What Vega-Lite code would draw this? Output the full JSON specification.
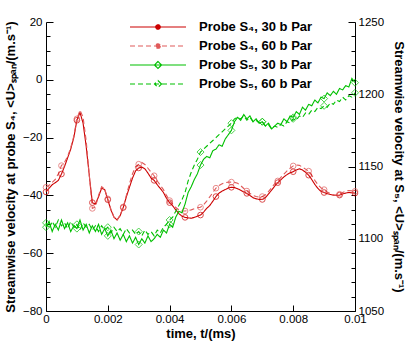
{
"$schema":"https://vega.github.io/schema/vega-lite/v6.json",
"width":309,"height":289,
"autosize":{"type":"none"},
"padding":{"left":46,"top":22,"right":60,"bottom":36},
"config":{"view":{"stroke":null},"font":"Liberation Sans",
 "axis":{"labelFont":"Liberation Sans","labelFontSize":11.5,"labelColor":"#000","titleFont":"Liberation Sans","titleFontSize":13,"titleFontWeight":"bold","titleColor":"#000","domainColor":"#000","tickColor":"#000","grid":false,"labelFlush":false,"labelOverlap":false}},
"data":{"values":[
{"t":0,"s4_30":-38.8,"s4_60":-37.2,"s5_30":1108,"s5_60":1111},
{"t":0.0001,"s4_30":-37.5,"s4_60":-36.5,"s5_30":1112,"s5_60":1107},
{"t":0.0002,"s4_30":-36.3,"s4_60":-35.5,"s5_30":1105,"s5_60":1112},
{"t":0.0003,"s4_30":-35.6,"s4_60":-34.5,"s5_30":1110,"s5_60":1108},
{"t":0.0004,"s4_30":-34.8,"s4_60":-32.5,"s5_30":1106,"s5_60":1113},
{"t":0.0005,"s4_30":-32.6,"s4_60":-29.7,"s5_30":1113,"s5_60":1109},
{"t":0.0006,"s4_30":-30,"s4_60":-28.5,"s5_30":1107,"s5_60":1111},
{"t":0.0007,"s4_30":-27,"s4_60":-26.5,"s5_30":1111,"s5_60":1107},
{"t":0.0008,"s4_30":-24,"s4_60":-23.5,"s5_30":1105,"s5_60":1112},
{"t":0.0009,"s4_30":-20,"s4_60":-19.5,"s5_30":1109,"s5_60":1108},
{"t":0.001,"s4_30":-14,"s4_60":-13.5,"s5_30":1107,"s5_60":1110},
{"t":0.0011,"s4_30":-11.3,"s4_60":-10.5,"s5_30":1113,"s5_60":1106},
{"t":0.0012,"s4_30":-15,"s4_60":-13,"s5_30":1106,"s5_60":1111},
{"t":0.0013,"s4_30":-23,"s4_60":-21,"s5_30":1110,"s5_60":1108},
{"t":0.0014,"s4_30":-33,"s4_60":-33,"s5_30":1104,"s5_60":1110},
{"t":0.0015,"s4_30":-42.5,"s4_60":-44.5,"s5_30":1109,"s5_60":1106},
{"t":0.0016,"s4_30":-43,"s4_60":-44,"s5_30":1105,"s5_60":1109},
{"t":0.0017,"s4_30":-40.5,"s4_60":-40,"s5_30":1110,"s5_60":1105},
{"t":0.0018,"s4_30":-37.5,"s4_60":-37,"s5_30":1103,"s5_60":1109},
{"t":0.0019,"s4_30":-38,"s4_60":-37.8,"s5_30":1107,"s5_60":1106},
{"t":0.002,"s4_30":-41.5,"s4_60":-41.2,"s5_30":1102,"s5_60":1108},
{"t":0.0021,"s4_30":-45,"s4_60":-44.8,"s5_30":1106,"s5_60":1104},
{"t":0.0022,"s4_30":-47.5,"s4_60":-47.5,"s5_30":1100,"s5_60":1108},
{"t":0.0023,"s4_30":-48.5,"s4_60":-48.5,"s5_30":1104,"s5_60":1105},
{"t":0.0024,"s4_30":-47,"s4_60":-46.8,"s5_30":1099,"s5_60":1107},
{"t":0.0025,"s4_30":-44.2,"s4_60":-44,"s5_30":1103,"s5_60":1103},
{"t":0.0026,"s4_30":-40.5,"s4_60":-40,"s5_30":1098,"s5_60":1107},
{"t":0.0027,"s4_30":-37.2,"s4_60":-36,"s5_30":1102,"s5_60":1104},
{"t":0.0028,"s4_30":-34,"s4_60":-32.5,"s5_30":1097,"s5_60":1106},
{"t":0.0029,"s4_30":-31.5,"s4_60":-30,"s5_30":1101,"s5_60":1103},
{"t":0.003,"s4_30":-30.5,"s4_60":-29.2,"s5_30":1096,"s5_60":1105},
{"t":0.0031,"s4_30":-30.2,"s4_60":-28.6,"s5_30":1100,"s5_60":1102},
{"t":0.0032,"s4_30":-30.8,"s4_60":-29.3,"s5_30":1097,"s5_60":1106},
{"t":0.0033,"s4_30":-32.3,"s4_60":-30.6,"s5_30":1102,"s5_60":1103},
{"t":0.0034,"s4_30":-34,"s4_60":-32,"s5_30":1098,"s5_60":1105},
{"t":0.0035,"s4_30":-34.8,"s4_60":-33.2,"s5_30":1100,"s5_60":1102},
{"t":0.0036,"s4_30":-36.3,"s4_60":-35,"s5_30":1103,"s5_60":1106},
{"t":0.0037,"s4_30":-37.6,"s4_60":-36.5,"s5_30":1101,"s5_60":1104},
{"t":0.0038,"s4_30":-39,"s4_60":-38,"s5_30":1106,"s5_60":1108},
{"t":0.0039,"s4_30":-41,"s4_60":-40,"s5_30":1104,"s5_60":1110},
{"t":0.004,"s4_30":-42.5,"s4_60":-41.8,"s5_30":1110,"s5_60":1113},
{"t":0.0041,"s4_30":-43.6,"s4_60":-43,"s5_30":1108,"s5_60":1115},
{"t":0.0042,"s4_30":-45,"s4_60":-44.2,"s5_30":1115,"s5_60":1119},
{"t":0.0043,"s4_30":-46.3,"s4_60":-45,"s5_30":1119,"s5_60":1123},
{"t":0.0044,"s4_30":-47.2,"s4_60":-45.4,"s5_30":1118,"s5_60":1127},
{"t":0.0045,"s4_30":-47.6,"s4_60":-45.4,"s5_30":1124,"s5_60":1132},
{"t":0.0046,"s4_30":-47.8,"s4_60":-45.2,"s5_30":1132,"s5_60":1140},
{"t":0.0047,"s4_30":-47.9,"s4_60":-45,"s5_30":1136,"s5_60":1146},
{"t":0.0048,"s4_30":-47.6,"s4_60":-44.6,"s5_30":1141,"s5_60":1151},
{"t":0.0049,"s4_30":-47.2,"s4_60":-44.3,"s5_30":1145,"s5_60":1155},
{"t":0.005,"s4_30":-46.8,"s4_60":-44.1,"s5_30":1151,"s5_60":1160},
{"t":0.0051,"s4_30":-45.8,"s4_60":-43.2,"s5_30":1155,"s5_60":1162},
{"t":0.0052,"s4_30":-44.5,"s4_60":-42,"s5_30":1157,"s5_60":1164},
{"t":0.0053,"s4_30":-43.5,"s4_60":-40.5,"s5_30":1156,"s5_60":1166},
{"t":0.0054,"s4_30":-42,"s4_60":-39,"s5_30":1161,"s5_60":1168},
{"t":0.0055,"s4_30":-40.4,"s4_60":-37.5,"s5_30":1162,"s5_60":1170},
{"t":0.0056,"s4_30":-39.2,"s4_60":-36.6,"s5_30":1165,"s5_60":1172},
{"t":0.0057,"s4_30":-38.5,"s4_60":-36,"s5_30":1164,"s5_60":1174},
{"t":0.0058,"s4_30":-38,"s4_60":-35.6,"s5_30":1169,"s5_60":1176},
{"t":0.0059,"s4_30":-37.4,"s4_60":-35.4,"s5_30":1172,"s5_60":1178},
{"t":0.006,"s4_30":-37.2,"s4_60":-35.4,"s5_30":1175,"s5_60":1180},
{"t":0.0061,"s4_30":-37.3,"s4_60":-35.5,"s5_30":1181,"s5_60":1183},
{"t":0.0062,"s4_30":-37.7,"s4_60":-35.8,"s5_30":1184,"s5_60":1184},
{"t":0.0063,"s4_30":-38.2,"s4_60":-36.6,"s5_30":1182,"s5_60":1183},
{"t":0.0064,"s4_30":-38.8,"s4_60":-37.6,"s5_30":1186,"s5_60":1185},
{"t":0.0065,"s4_30":-39.3,"s4_60":-38.5,"s5_30":1183,"s5_60":1182},
{"t":0.0066,"s4_30":-40,"s4_60":-39.3,"s5_30":1185,"s5_60":1184},
{"t":0.0067,"s4_30":-40.8,"s4_60":-40,"s5_30":1181,"s5_60":1181},
{"t":0.0068,"s4_30":-41.2,"s4_60":-40.4,"s5_30":1183,"s5_60":1182},
{"t":0.0069,"s4_30":-41.4,"s4_60":-40.6,"s5_30":1180,"s5_60":1180},
{"t":0.007,"s4_30":-41.4,"s4_60":-40.4,"s5_30":1181,"s5_60":1181},
{"t":0.0071,"s4_30":-40.8,"s4_60":-39.8,"s5_30":1178,"s5_60":1178},
{"t":0.0072,"s4_30":-39.5,"s4_60":-38.7,"s5_30":1180,"s5_60":1179},
{"t":0.0073,"s4_30":-38.2,"s4_60":-37.3,"s5_30":1176,"s5_60":1176},
{"t":0.0074,"s4_30":-36.8,"s4_60":-36,"s5_30":1178,"s5_60":1178},
{"t":0.0075,"s4_30":-35.6,"s4_60":-35,"s5_30":1180,"s5_60":1177},
{"t":0.0076,"s4_30":-34.6,"s4_60":-33.8,"s5_30":1179,"s5_60":1179},
{"t":0.0077,"s4_30":-33.6,"s4_60":-32.6,"s5_30":1183,"s5_60":1178},
{"t":0.0078,"s4_30":-32.8,"s4_60":-31.5,"s5_30":1181,"s5_60":1181},
{"t":0.0079,"s4_30":-32.2,"s4_60":-30.6,"s5_30":1185,"s5_60":1180},
{"t":0.008,"s4_30":-31.8,"s4_60":-29.8,"s5_30":1184,"s5_60":1183},
{"t":0.0081,"s4_30":-31.2,"s4_60":-29.5,"s5_30":1188,"s5_60":1182},
{"t":0.0082,"s4_30":-30.8,"s4_60":-29.6,"s5_30":1186,"s5_60":1185},
{"t":0.0083,"s4_30":-31.2,"s4_60":-30.2,"s5_30":1191,"s5_60":1184},
{"t":0.0084,"s4_30":-32,"s4_60":-30.9,"s5_30":1189,"s5_60":1187},
{"t":0.0085,"s4_30":-33,"s4_60":-31.6,"s5_30":1193,"s5_60":1186},
{"t":0.0086,"s4_30":-34.5,"s4_60":-33,"s5_30":1192,"s5_60":1189},
{"t":0.0087,"s4_30":-36.2,"s4_60":-34.8,"s5_30":1196,"s5_60":1188},
{"t":0.0088,"s4_30":-37.6,"s4_60":-36.3,"s5_30":1194,"s5_60":1191},
{"t":0.0089,"s4_30":-38.6,"s4_60":-37.4,"s5_30":1198,"s5_60":1190},
{"t":0.009,"s4_30":-39,"s4_60":-38,"s5_30":1197,"s5_60":1192},
{"t":0.0091,"s4_30":-39.4,"s4_60":-38.8,"s5_30":1201,"s5_60":1191},
{"t":0.0092,"s4_30":-39.7,"s4_60":-39.4,"s5_30":1199,"s5_60":1194},
{"t":0.0093,"s4_30":-39.9,"s4_60":-39.8,"s5_30":1202,"s5_60":1193},
{"t":0.0094,"s4_30":-40,"s4_60":-40,"s5_30":1200,"s5_60":1196},
{"t":0.0095,"s4_30":-39.9,"s4_60":-39.6,"s5_30":1204,"s5_60":1195},
{"t":0.0096,"s4_30":-39.5,"s4_60":-39,"s5_30":1203,"s5_60":1198},
{"t":0.0097,"s4_30":-39.2,"s4_60":-38.5,"s5_30":1206,"s5_60":1196},
{"t":0.0098,"s4_30":-39,"s4_60":-38.3,"s5_30":1205,"s5_60":1199},
{"t":0.0099,"s4_30":-39.1,"s4_60":-38.4,"s5_30":1211,"s5_60":1198},
{"t":0.01,"s4_30":-39.2,"s4_60":-38.6,"s5_30":1208,"s5_60":1201}
]},
"transform":[{"fold":["s4_30","s4_60","s5_30","s5_60"],"as":["series","v"]}],
"encoding":{"x":{"field":"t","type":"quantitative","scale":{"domain":[0,0.01],"nice":false},
 "axis":{"values":[0,0.002,0.004,0.006,0.008,0.01],"format":"~g","tickSize":-6,"labelPadding":8,"title":"time, t/(ms)","titlePadding":3}}},
"layer":[
 {"transform":[{"filter":"indexof(datum.series,'s4')===0"}],
  "encoding":{
   "y":{"field":"v","type":"quantitative","scale":{"domain":[-80,20],"nice":false},
    "axis":{"orient":"left","values":[-80,-75,-70,-65,-60,-55,-50,-45,-40,-35,-30,-25,-20,-15,-10,-5,0,5,10,15,20],
     "labelExpr":"datum.value % 20 === 0 ? datum.label : ''",
     "tickSize":{"condition":{"test":"datum.value % 20 === 0","value":-7},"value":-4},
     "labelPadding":11,"title":"Streamwise velocity at probe S₄,  <U>ₛₚₐₙ/(m.s⁻¹)","titlePadding":5}},
   "color":{"field":"series","type":"nominal",
    "scale":{"domain":["s4_30","s4_60","s5_30","s5_60"],"range":["#cc0000","#e05a5a","#00c000","#00c000"]},
    "legend":{"orient":"none","legendX":104,"legendY":-3,"title":null,"padding":0,"symbolSize":196,"symbolStrokeWidth":1.2,"labelOffset":33,
     "labelFont":"Liberation Sans","labelFontSize":13,"labelFontWeight":"bold","labelColor":"#000","rowPadding":4,
     "labelExpr":"datum.value=='s4_30'?'Probe S₄, 30 b Par':datum.value=='s4_60'?'Probe S₄, 60 b Par':datum.value=='s5_30'?'Probe S₅, 30 b Par':'Probe S₅, 60 b Par'",
     "encode":{"symbols":{"update":{
      "shape":{"signal":"indexof(datum.value,'s5')===0 ? 'M-4,0H4M0.5,0L0,-0.5L-0.5,0L0,0.5Z' : 'M-4,0H4M0.32,0A0.32,0.32 0 1,1 -0.32,0A0.32,0.32 0 1,1 0.32,0'"},
      "fill":{"signal":"indexof(datum.value,'s4')===0 ? scale('color', datum.value) : 'transparent'"}}}}}}},
  "layer":[
   {"mark":{"type":"line","strokeWidth":1.1},
    "encoding":{"strokeDash":{"field":"series","type":"nominal","scale":{"domain":["s4_30","s4_60","s5_30","s5_60"],"range":[[1,0],[5,3],[1,0],[5,3]]}}}},
   {"transform":[{"filter":"abs(datum.t*2000-round(datum.t*2000))<0.001"}],
    "mark":{"type":"point","shape":"circle","filled":false,"size":32,"strokeWidth":1}}
  ]},
 {"transform":[{"filter":"indexof(datum.series,'s5')===0"}],
  "encoding":{
   "y":{"field":"v","type":"quantitative","scale":{"domain":[1050,1250],"nice":false},
    "axis":{"orient":"right","values":[1050,1060,1070,1080,1090,1100,1110,1120,1130,1140,1150,1160,1170,1180,1190,1200,1210,1220,1230,1240,1250],
     "format":"d",
     "labelExpr":"datum.value % 50 === 0 ? datum.label : ''",
     "tickSize":{"condition":{"test":"datum.value % 50 === 0","value":-7},"value":-4},
     "labelPadding":10,"title":"Streamwise velocity at S₅,  <U>ₛₚₐₙ/(m.s⁻¹)","titlePadding":8}},
   "color":{"field":"series","type":"nominal",
    "scale":{"domain":["s4_30","s4_60","s5_30","s5_60"],"range":["#cc0000","#e05a5a","#00c000","#00c000"]}}},
  "layer":[
   {"mark":{"type":"line","strokeWidth":1.1},
    "encoding":{"strokeDash":{"field":"series","type":"nominal","scale":{"domain":["s4_30","s4_60","s5_30","s5_60"],"range":[[1,0],[5,3],[1,0],[5,3]]}}}},
   {"transform":[{"filter":"abs(datum.t*1000-round(datum.t*1000))<0.001"}],
    "mark":{"type":"point","shape":"diamond","filled":false,"size":49,"strokeWidth":1}}
  ]}
],
"resolve":{"scale":{"y":"independent"}}
}
